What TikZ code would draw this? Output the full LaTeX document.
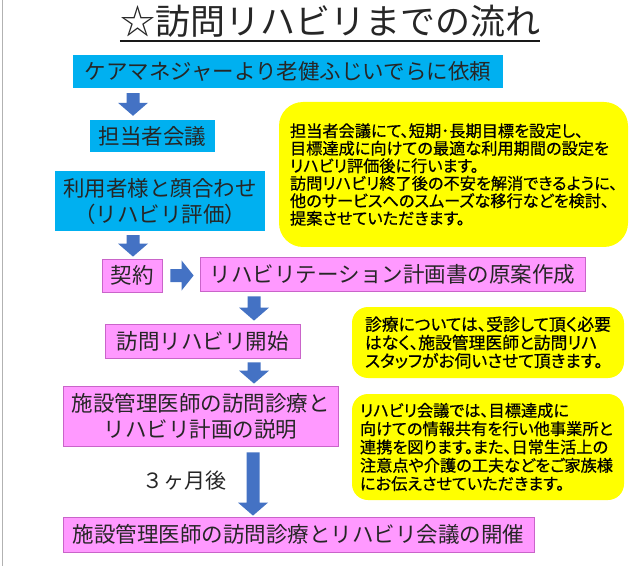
\documentclass[tikz,border=0pt]{standalone}
\usepackage{fontspec}
\setmainfont{Noto Sans CJK JP}
\newfontfamily\jpp[RawFeature=+palt, FakeBold=0.6]{Noto Sans CJK JP}
\usetikzlibrary{calc}
\definecolor{cblue}{HTML}{00B0F0}
\definecolor{cpink}{HTML}{FF99FF}
\definecolor{cpinkb}{HTML}{C964C9}
\definecolor{carrow}{HTML}{4472C4}
\definecolor{cyel}{HTML}{FFFF00}
\tikzset{
  box/.style={rectangle, inner sep=0pt, align=center, text=black!85,
    font=\fontsize{21.5}{26}\selectfont},
  bluebox/.style={box, fill=cblue},
  pinkbox/.style={box, fill=cpink, draw=cpinkb, line width=0.8pt},
  notebox/.style={rectangle, rounded corners=#1, fill=cyel, inner ysep=0pt,
    align=left, text=black},
}
\newcommand\flowdown[2]{\fill[carrow] let \p1=(#1), \p2=(#2) in
  (\x1-6.5pt,\y1) -- (\x1+6.5pt,\y1) -- (\x1+6.5pt,\y2+13pt) -- (\x1+15pt,\y2+13pt)
  -- (\x1,\y2) -- (\x1-15pt,\y2+13pt) -- (\x1-6.5pt,\y2+13pt) -- cycle;}
\newcommand\flowright[2]{\fill[carrow] let \p1=(#1), \p2=(#2) in
  (\x1,\y1+6.5pt) -- (\x2-12pt,\y1+6.5pt) -- (\x2-12pt,\y1+15pt) -- (\x2,\y1)
  -- (\x2-12pt,\y1-15pt) -- (\x2-12pt,\y1-6.5pt) -- (\x1,\y1-6.5pt) -- cycle;}
\begin{document}
\begin{tikzpicture}[x=1pt,y=-1pt]
\fill[white] (0,0) rectangle (640,572);
\useasboundingbox (0,0) rectangle (640,572);
\draw[black!30, line width=1pt] (2,0) -- (2,566);

% title
\node[anchor=base, inner sep=0pt, text=black!85, font=\fontsize{35}{40}\selectfont] (title) at (330,35) {☆訪問リハビリまでの流れ};
\coordinate (ul1) at ($(title.base west)+(0,6)$);
\coordinate (ul2) at ($(title.base east)+(0,6)$);
\draw[line width=2.4pt, black!90] (ul1) -- (ul2);

% flow boxes
\node[bluebox, minimum width=430pt, minimum height=33pt] (b1) at (288,71.5) {ケアマネジャーより老健ふじいでらに依頼};
\node[bluebox, minimum width=125pt, minimum height=32pt] (b2) at (152.5,136) {担当者会議};
\node[bluebox, minimum width=210pt, minimum height=60pt] (b3) at (160,201) {利用者様と顔合わせ\\（リハビリ評価）};
\node[pinkbox, minimum width=60pt, minimum height=33pt] (k) at (132,275.5) {契約};
\node[pinkbox, minimum width=385pt, minimum height=34pt] (p) at (392.5,274) {リハビリテーション計画書の原案作成};
\node[pinkbox, minimum width=195pt, minimum height=34pt] (s) at (202.5,341) {訪問リハビリ開始};
\node[pinkbox, minimum width=275pt, minimum height=60pt] (d) at (200.5,416) {施設管理医師の訪問診療と\\リハビリ計画の説明};
\node[pinkbox, minimum width=471pt, minimum height=35pt] (f) at (298.5,534.5) {施設管理医師の訪問診療とリハビリ会議の開催};
\node[inner sep=0pt, text=black!85, font=\fontsize{21}{24}\selectfont] (t3) at (184,481) {３ヶ月後};

% notes
\node[notebox=24pt, inner xsep=11pt, text width=327pt, minimum width=349pt, minimum height=145pt,
  font=\jpp\fontsize{16.2}{17.5}\selectfont] (y1) at (453.5,174.5)
  {担当者会議にて、短期･長期目標を設定し、\\目標達成に向けての最適な利用期間の設定を\\リハビリ評価後に行います。\\訪問リハビリ終了後の不安を解消できるように、\\他のサービスへのスムーズな移行などを検討、\\提案させていただきます。};
\node[notebox=16pt, inner xsep=13pt, text width=246pt, minimum width=272pt, minimum height=71pt,
  font=\jpp\fontsize{16.8}{18.3}\selectfont] (y2) at (488,342.5)
  {診療については、受診して頂く必要\\はなく、施設管理医師と訪問リハ\\スタッフがお伺いさせて頂きます。};
\node[notebox=16pt, inner xsep=8pt, text width=256pt, minimum width=272pt, minimum height=106pt,
  font=\jpp\fontsize{16.2}{18.3}\selectfont] (y3) at (488,447)
  {リハビリ会議では、目標達成に\\向けての情報共有を行い他事業所と\\連携を図ります。また、日常生活上の\\注意点や介護の工夫などをご家族様\\にお伝えさせていただきます。};

% arrows
\coordinate (a1s) at ($(133,0 |- b1.south)+(0,5)$);
\coordinate (a1e) at ($(133,0 |- b2.north)+(0,-4)$);
\coordinate (a2s) at ($(133,0 |- b3.south)+(0,4)$);
\coordinate (a2e) at ($(133,0 |- k.north)+(0,-2)$);
\coordinate (ars) at ($(k.east)+(8,0)$);
\coordinate (are) at ($(p.west |- k.east)+(-6,0)$);
\coordinate (a3s) at ($(254,0 |- p.south)+(0,5)$);
\coordinate (a3e) at ($(254,0 |- s.north)+(0,-3)$);
\coordinate (a4s) at ($(254,0 |- s.south)+(0,4)$);
\coordinate (a4e) at ($(254,0 |- d.north)+(0,-2)$);
\coordinate (a5s) at ($(253,0 |- d.south)+(0,6)$);
\coordinate (a5e) at ($(253,0 |- f.north)+(0,-1)$);
\flowdown{a1s}{a1e}
\flowdown{a2s}{a2e}
\flowright{ars}{are}
\flowdown{a3s}{a3e}
\flowdown{a4s}{a4e}
\flowdown{a5s}{a5e}
\end{tikzpicture}
\end{document}
